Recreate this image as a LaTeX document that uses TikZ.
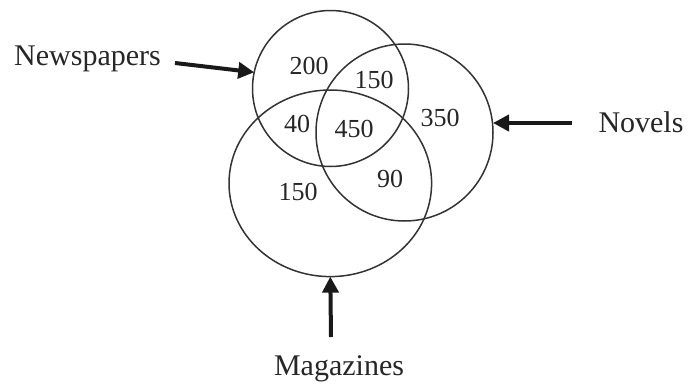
\documentclass[tikz,border=0pt]{standalone}
\usepackage{fontspec}
\setmainfont{Liberation Serif}
\usetikzlibrary{arrows.meta,shapes.geometric}
\begin{document}
\begin{tikzpicture}[x=1pt,y=-1pt,
  setring/.style={draw=black!80,line width=1.5pt,inner sep=0pt,outer sep=0pt},
  lbl/.style={font=\fontsize{30}{32}\selectfont,inner sep=0pt,text=black!85},
  num/.style={font=\fontsize{26}{28}\selectfont,inner sep=0pt,text=black!85},
  pointer/.style={line width=4pt,-{Triangle[length=16pt,width=16pt]},black!90}]
\useasboundingbox (0,0) rectangle (688,383);
\node[setring,circle,minimum size=156pt] (ncirc) at (330.5,88.5) {};
\node[setring,circle,minimum size=177pt] (vcirc) at (404.5,132.5) {};
\node[setring,ellipse,minimum width=202.6pt,minimum height=186.6pt] (mcirc) at (330.3,183.3) {};
\node[num] (n200) at (309,66) {200};
\node[num] (n150a) at (374,80) {150};
\node[num] (n40) at (297,124) {40};
\node[num] (n450) at (354,129) {450};
\node[num] (n350) at (440,118) {350};
\node[num] (n90) at (390,179) {90};
\node[num] (n150b) at (298,192) {150};
\node[lbl,anchor=base] (news) at (87.5,65) {Newspapers};
\node[lbl,anchor=base] (nov) at (641,132) {Novels};
\node[lbl,anchor=base] (mag) at (339,375) {Magazines};
\coordinate (ntail) at (175,63);
\coordinate (vtail) at (572,123);
\coordinate (mtail) at (331,337);
\draw[pointer] (ntail) -- (ncirc.168);
\draw[pointer] (vtail) -- (vcirc.east |- vtail);
\draw[pointer] (mtail) -- (mcirc.south);
\end{tikzpicture}
\end{document}
